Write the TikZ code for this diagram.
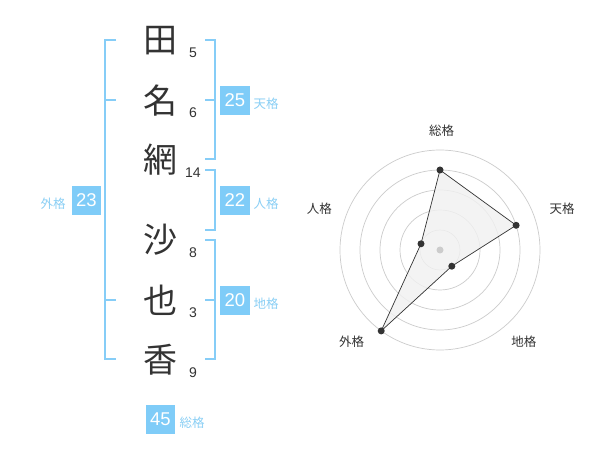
\documentclass[tikz,border=0pt]{standalone}
\usepackage{fontspec}
\setmainfont{Liberation Sans}
\newfontfamily\cjk{Noto Sans CJK JP}
\definecolor{boxblue}{HTML}{7FCCF8}
\definecolor{lblblue}{HTML}{8ACFF5}
\definecolor{brk}{HTML}{86CDF7}
\definecolor{ink}{HTML}{333333}
\definecolor{ringc}{HTML}{CCCCCC}
\definecolor{areac}{HTML}{F1F1F1}
\begin{document}
\begin{tikzpicture}[x=1pt,y=-1pt,
 kanji/.style={font=\cjk\fontsize{34}{34}\selectfont, text=ink, inner sep=0pt},
 strokes/.style={font=\fontsize{14}{14}\selectfont, text=ink, inner sep=0pt},
 numbox/.style={fill=boxblue, text=white, font=\fontsize{18.5}{18.5}\selectfont, minimum width=29.5pt, minimum height=29.5pt, inner sep=0pt},
 lbl/.style={font=\cjk\fontsize{12.5}{12.5}\selectfont, text=lblblue, inner sep=0pt},
 brack/.style={draw=brk, line width=2pt},
 ring/.style={draw=ringc, line width=0.7pt},
 rlbl/.style={font=\cjk\fontsize{12.5}{12.5}\selectfont, text=ink, inner sep=0pt},
 dot/.style={circle, fill=ink, inner sep=0pt, minimum size=7pt},
]
\useasboundingbox (0,0) rectangle (600,470);
\fill[white] (0,0) rectangle (600,470);

% kanji
\node[kanji] (k1) at (160,41) {田};
\node[kanji] (k2) at (160,101) {名};
\node[kanji] (k3) at (160,160) {網};
\node[kanji] (k4) at (160,240) {沙};
\node[kanji] (k5) at (160,300) {也};
\node[kanji] (k6) at (160,360) {香};

% stroke counts
\node[strokes] (s1) at (193,52.5) {5};
\node[strokes] (s2) at (193,112.5) {6};
\node[strokes] (s3) at (193,173) {14};
\node[strokes] (s4) at (193,252.5) {8};
\node[strokes] (s5) at (193,312.5) {3};
\node[strokes] (s6) at (193,372.5) {9};

% brackets
\draw[brack] (116,40) -- (105,40) -- (105,359.5) -- (116,359.5);
\draw[brack] (105,100) -- (116,100);
\draw[brack] (105,300) -- (116,300);
\draw[brack] (205,40) -- (214.5,40) -- (214.5,159.5) -- (205,159.5);
\draw[brack] (205,100) -- (214.5,100);
\draw[brack] (205,170) -- (214.5,170) -- (214.5,230) -- (205,230);
\draw[brack] (205,240) -- (214.5,240) -- (214.5,359.5) -- (205,359.5);
\draw[brack] (205,300) -- (214.5,300);

% boxes and labels
\node[numbox] (b1) at (235,100.5) {25};
\node[lbl] (l1) at (266,104) {天格};
\node[numbox] (b2) at (235,200.5) {22};
\node[lbl] (l2) at (266,204) {人格};
\node[numbox] (b3) at (235,300.5) {20};
\node[lbl] (l3) at (266,304) {地格};
\node[numbox] (b4) at (86.3,200.5) {23};
\node[lbl] (l4) at (53,204) {外格};
\node[numbox] (b5) at (160.5,419.5) {45};
\node[lbl] (l5) at (192,423) {総格};

% radar chart
\foreach \r in {20,40,60,80,100}
  \draw[ring] (440,250) circle[radius=\r];
\coordinate (p1) at (440,170);
\coordinate (p2) at (516.1,225.3);
\coordinate (p3) at (451.8,266.2);
\coordinate (p4) at (381.2,330.9);
\coordinate (p5) at (421,243.8);
\filldraw[fill=areac, fill opacity=0.8, draw=ink, line width=0.7pt] (p1) -- (p2) -- (p3) -- (p4) -- (p5) -- cycle;
\node[circle, fill=ringc, inner sep=0pt, minimum size=7pt] (ctr) at (440,250) {};
\foreach \p in {p1,p2,p3,p4,p5}
  \node[dot] at (\p) {};

\node[rlbl] (r1) at (441.5,130.5) {総格};
\node[rlbl] (r2) at (562,208.5) {天格};
\node[rlbl] (r3) at (319.3,208.5) {人格};
\node[rlbl] (r4) at (351.7,341.5) {外格};
\node[rlbl] (r5) at (523.8,341.5) {地格};
\end{tikzpicture}
\end{document}
